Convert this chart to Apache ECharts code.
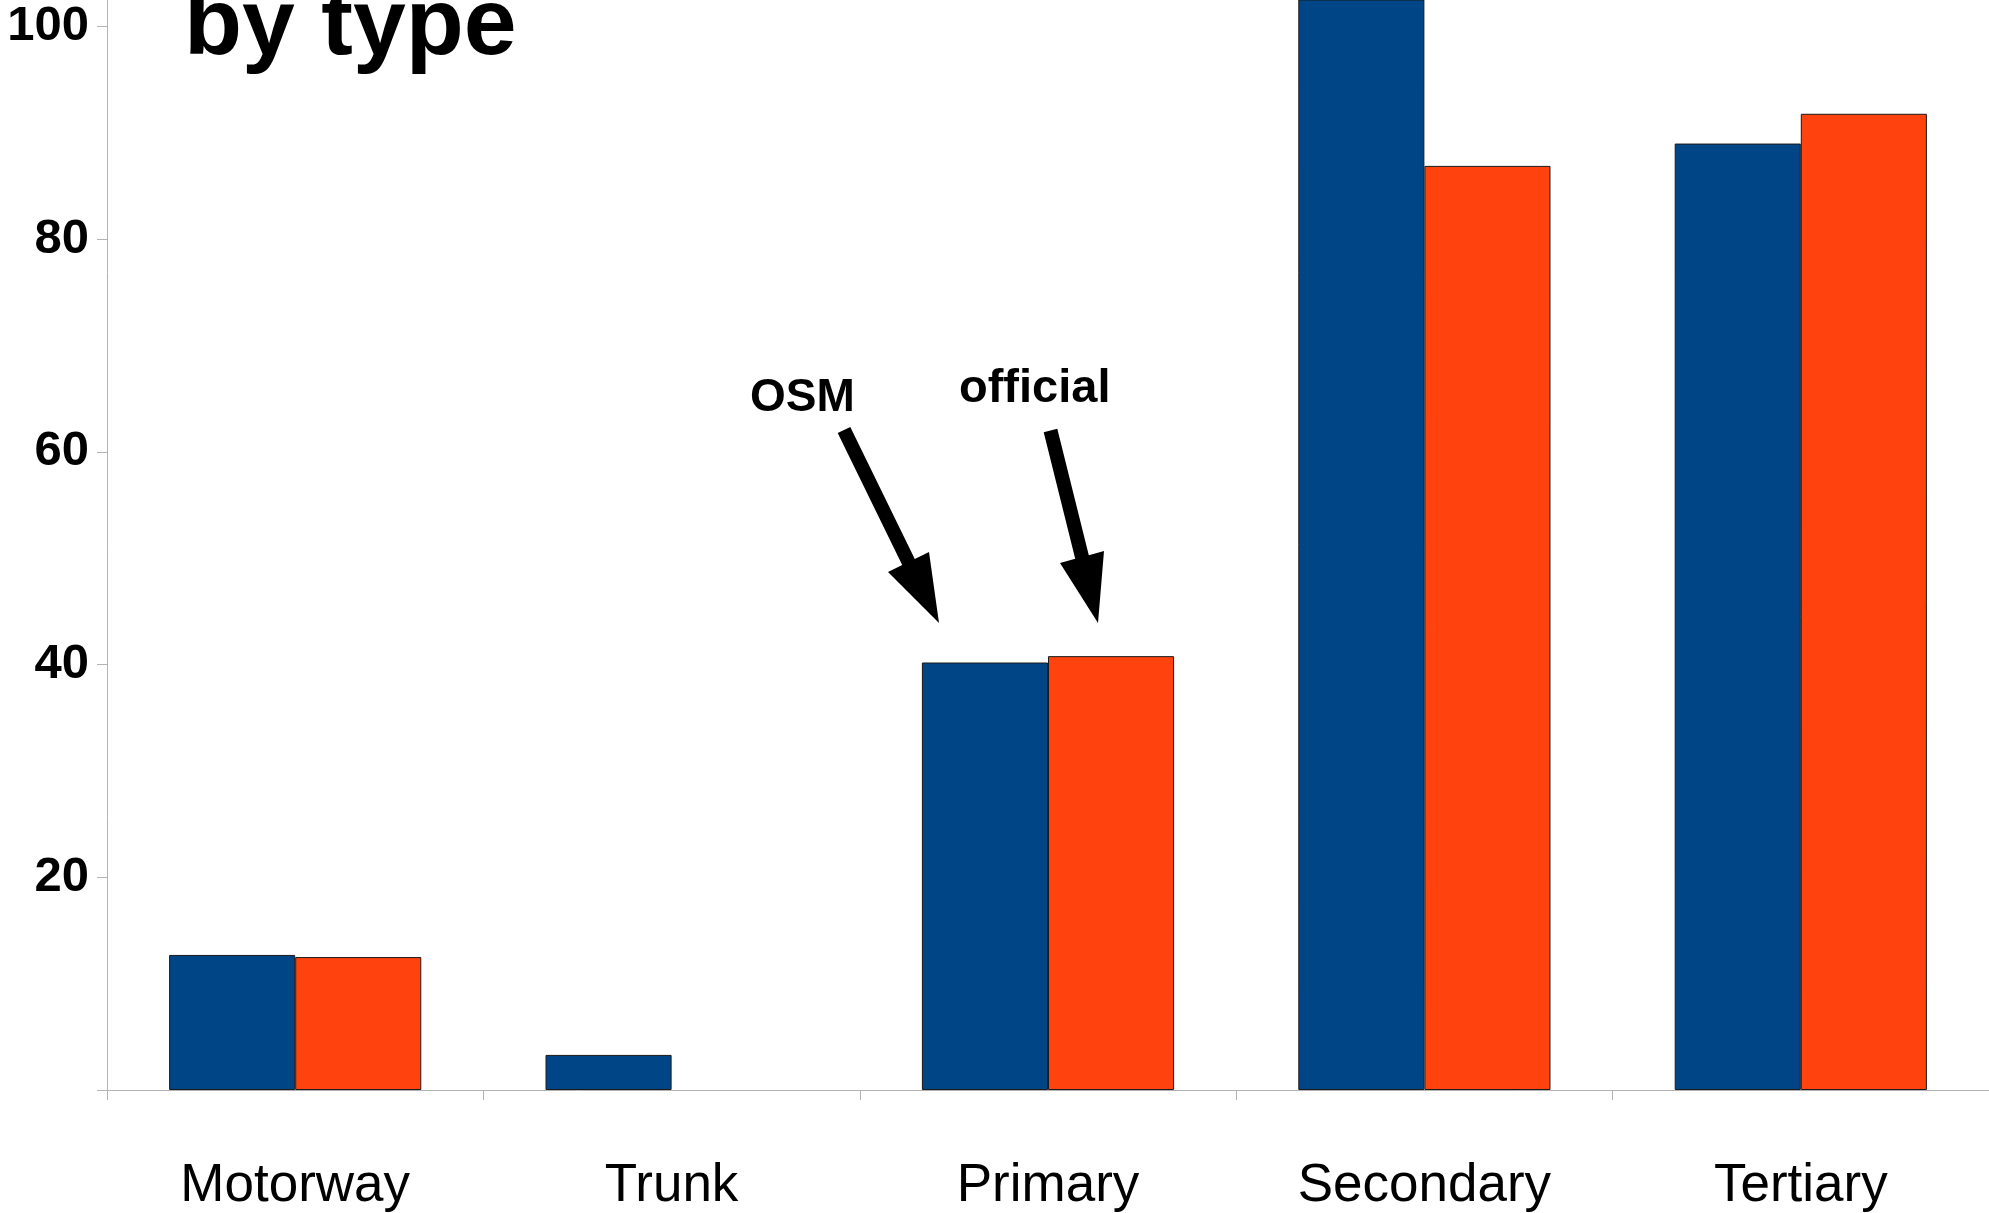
<!DOCTYPE html>
<html>
<head>
<meta charset="utf-8">
<script src="https://cdn.jsdelivr.net/npm/echarts@6/dist/echarts.min.js"></script>
<style>
  html, body { margin: 0; padding: 0; background: #fff; }
  #main { width: 1989px; height: 1213px; }
</style>
</head>
<body>
<div id="main"></div>
<script>
// road length by type, OSM vs official
const categories = ['Motorway', 'Trunk', 'Primary', 'Secondary', 'Tertiary'];
const osmValues = [12.7, 3.3, 40.2, 110, 89.0];
const officialValues = [12.5, null, 40.8, 86.9, 91.8];
const seriesNames = ['OSM', 'official'];
const yTicks = [0, 20, 40, 60, 80, 100];

const FONT = '"Liberation Sans", Arial, sans-serif';

const chart = echarts.init(document.getElementById('main'));
chart.setOption({
  animation: false,
  backgroundColor: '#fff',
  title: {
    text: 'by type',
    left: 184,
    top: -20,
    padding: 0,
    textStyle: { fontFamily: FONT, fontSize: 95, fontWeight: 'bold', color: '#000' }
  },
  grid: {
    left: 107,
    right: -2,
    top: 0,
    bottom: 121.5,
    containLabel: false
  },
  xAxis: {
    type: 'category',
    data: categories,
    axisLine: { lineStyle: { color: '#b3b3b3', width: 1 } },
    axisTick: { show: true, length: 10, lineStyle: { color: '#b3b3b3' } },
    axisLabel: {
      interval: 0,
      margin: 70,
      color: '#000',
      fontFamily: FONT,
      fontSize: 53
    },
    splitLine: { show: false }
  },
  yAxis: {
    type: 'value',
    min: 0,
    max: 102.5,   // picture is cropped just above 100
    axisLine: { show: true, lineStyle: { color: '#b3b3b3', width: 1 } },
    axisTick: { show: true, length: 10, customValues: yTicks, lineStyle: { color: '#b3b3b3' } },
    axisLabel: {
      margin: 18,
      color: '#000',
      fontFamily: FONT,
      fontSize: 49,
      fontWeight: 'bold',
      customValues: yTicks.slice(1)
    },
    splitLine: { show: false }
  },
  series: [
    {
      name: seriesNames[0],
      type: 'bar',
      data: osmValues,
      barGap: '0%',
      barCategoryGap: '33%',
      clip: true,
      itemStyle: { color: '#004586', borderColor: '#1a1a1a', borderWidth: 1 }
    },
    {
      name: seriesNames[1],
      type: 'bar',
      data: officialValues,
      clip: true,
      itemStyle: { color: '#ff420e', borderColor: '#1a1a1a', borderWidth: 1 }
    }
  ],
  graphic: [
    {
      type: 'text', left: 750, top: 375,
      style: { text: 'OSM', fill: '#000', font: 'bold 46px ' + FONT }
    },
    {
      type: 'text', left: 959, top: 366,
      style: { text: 'official', fill: '#000', font: 'bold 47px ' + FONT }
    },
    {
      type: 'polygon',
      shape: { points: [[837.7, 433.1], [850.3, 426.9], [914.8, 558.9], [929, 552], [939, 623], [888, 572], [902.2, 565.1]] },
      style: { fill: '#000' }
    },
    {
      type: 'polygon',
      shape: { points: [[1043.7, 432.2], [1057.3, 428.8], [1088.8, 555.3], [1104, 551], [1098, 623], [1060, 563], [1075.2, 558.7]] },
      style: { fill: '#000' }
    }
  ]
});
</script>
</body>
</html>
